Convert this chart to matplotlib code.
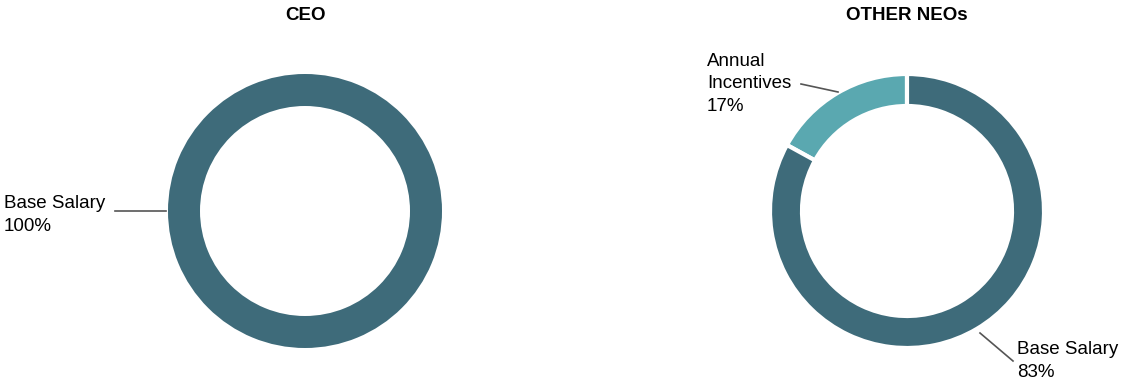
import matplotlib.pyplot as plt

# data
ceo_labels = ["Base Salary"]
ceo_values = [100]
neo_labels = ["Annual Incentives", "Base Salary"]
neo_values = [17, 83]

dark = "#3e6b7a"
light = "#5aa8b0"

W, H = 1123, 383
fig = plt.figure(figsize=(W / 100, H / 100), dpi=100)
ax = fig.add_axes([0, 0, 1, 1])
ax.set_aspect("equal")

plt.rcParams["font.family"] = "Liberation Sans"

R = 137
ring = 32

# CEO donut
ax.pie(ceo_values, colors=[dark], startangle=0, radius=R, center=(305, H - 211),
       wedgeprops=dict(width=ring, edgecolor="white", linewidth=0), frame=True)
# NEO donut
ax.pie(neo_values, colors=[light, dark], startangle=90, counterclock=True, radius=R,
       center=(907, H - 211),
       wedgeprops=dict(width=ring, edgecolor="white", linewidth=3), frame=True)
ax.set_xlim(0, W)
ax.set_ylim(0, H)
ax.axis("off")

fs = 13.5
ax.text(305, H - 15, "CEO", ha="center", va="center", fontsize=13.5, fontweight="bold")
ax.text(907, H - 15, "OTHER NEOs", ha="center", va="center", fontsize=13.5, fontweight="bold")

ax.text(4, H - 215, f"{ceo_labels[0]}\n{ceo_values[0]}%", ha="left", va="center",
        fontsize=fs, linespacing=1.4)
ax.plot([115, 166], [H - 211, H - 211], color="#555555", lw=1.2)

ax.text(707, H - 84, "Annual\nIncentives\n" + f"{neo_values[0]}%", ha="left", va="center",
        fontsize=fs, linespacing=1.4)
ax.plot([801, 838], [H - 84, H - 92], color="#555555", lw=1.2)

ax.text(1017, H - 361, f"{neo_labels[1]}\n{neo_values[1]}%", ha="left", va="center",
        fontsize=fs, linespacing=1.4)
ax.plot([980, 1013], [H - 333, H - 361], color="#555555", lw=1.2)

fig.savefig("out.png", dpi=100)
